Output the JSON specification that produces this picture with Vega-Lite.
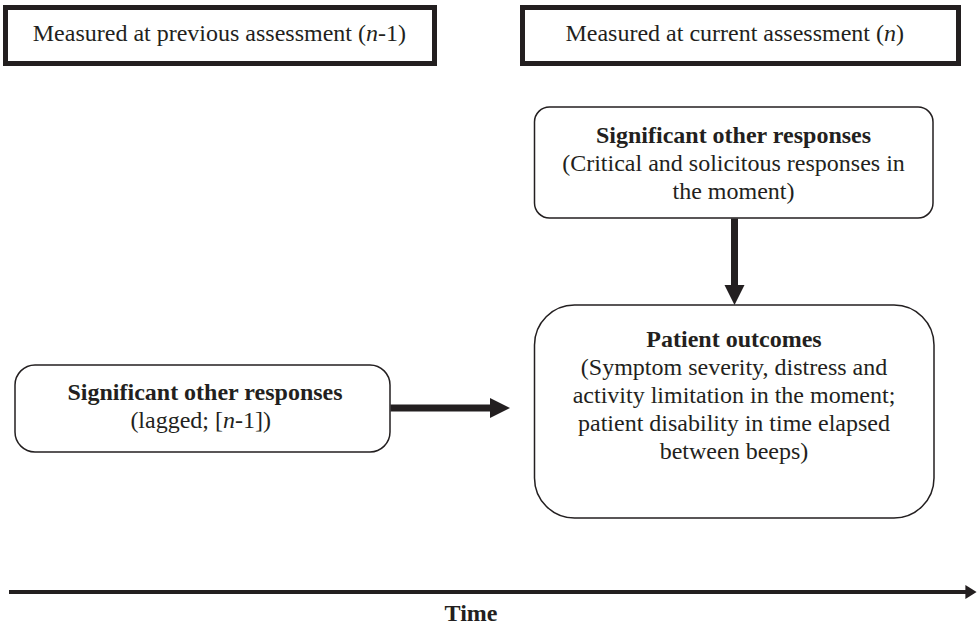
{
  "$schema": "https://vega.github.io/schema/vega-lite/v6.json",
  "width": 977,
  "height": 626,
  "autosize": {"type": "fit", "contains": "padding"},
  "padding": 0,
  "background": "white",
  "config": {"view": {"stroke": null}},
  "layer": [
    {
      "data": {"values": [
        {"box": "previous", "x1": 5.5, "x2": 434.5, "y1": 7.5, "y2": 63.5},
        {"box": "current", "x1": 522.5, "x2": 958.5, "y1": 7.5, "y2": 63.5}
      ]},
      "mark": {"type": "rect", "fill": "white", "stroke": "#231f20", "strokeWidth": 5},
      "encoding": {
        "x": {"field": "x1", "type": "quantitative", "scale": {"domain": [0, 977], "nice": false, "zero": false}, "axis": null},
        "x2": {"field": "x2"},
        "y": {"field": "y1", "type": "quantitative", "scale": {"domain": [0, 626], "nice": false, "zero": false, "reverse": true}, "axis": null},
        "y2": {"field": "y2"}
      }
    },
    {
      "data": {"values": [{"box": "so_current", "x1": 534.5, "x2": 933, "y1": 107, "y2": 218}]},
      "mark": {"type": "rect", "fill": "white", "stroke": "#231f20", "strokeWidth": 1.5, "cornerRadius": 15},
      "encoding": {
        "x": {"field": "x1", "type": "quantitative", "axis": null},
        "x2": {"field": "x2"},
        "y": {"field": "y1", "type": "quantitative", "axis": null},
        "y2": {"field": "y2"}
      }
    },
    {
      "data": {"values": [{"box": "patient", "x1": 534.5, "x2": 934, "y1": 305, "y2": 518}]},
      "mark": {"type": "rect", "fill": "white", "stroke": "#231f20", "strokeWidth": 1.5, "cornerRadius": 40},
      "encoding": {
        "x": {"field": "x1", "type": "quantitative", "axis": null},
        "x2": {"field": "x2"},
        "y": {"field": "y1", "type": "quantitative", "axis": null},
        "y2": {"field": "y2"}
      }
    },
    {
      "data": {"values": [{"box": "so_lagged", "x1": 15, "x2": 390, "y1": 365, "y2": 452}]},
      "mark": {"type": "rect", "fill": "white", "stroke": "#231f20", "strokeWidth": 1.5, "cornerRadius": 20},
      "encoding": {
        "x": {"field": "x1", "type": "quantitative", "axis": null},
        "x2": {"field": "x2"},
        "y": {"field": "y1", "type": "quantitative", "axis": null},
        "y2": {"field": "y2"}
      }
    },
    {
      "data": {"values": [
        {"arrow": "down", "x1": 734.5, "x2": 734.5, "y1": 218.5, "y2": 287},
        {"arrow": "right", "x1": 390.5, "x2": 492, "y1": 408, "y2": 408}
      ]},
      "mark": {"type": "rule", "color": "#231f20", "strokeWidth": 7},
      "encoding": {
        "x": {"field": "x1", "type": "quantitative", "axis": null},
        "x2": {"field": "x2"},
        "y": {"field": "y1", "type": "quantitative", "axis": null},
        "y2": {"field": "y2"}
      }
    },
    {
      "data": {"values": [{"arrow": "time", "x1": 9, "x2": 970, "y1": 592, "y2": 592}]},
      "mark": {"type": "rule", "color": "#231f20", "strokeWidth": 4},
      "encoding": {
        "x": {"field": "x1", "type": "quantitative", "axis": null},
        "x2": {"field": "x2"},
        "y": {"field": "y1", "type": "quantitative", "axis": null},
        "y2": {"field": "y2"}
      }
    },
    {
      "data": {"values": [{"head": "down", "x": 734.5, "y": 295}]},
      "mark": {"type": "point", "shape": "M-1,-1L1,-1L0,1Z", "size": 400, "filled": true, "color": "#231f20", "opacity": 1, "strokeWidth": 0},
      "encoding": {
        "x": {"field": "x", "type": "quantitative", "axis": null},
        "y": {"field": "y", "type": "quantitative", "axis": null}
      }
    },
    {
      "data": {"values": [{"head": "right", "x": 500, "y": 408}]},
      "mark": {"type": "point", "shape": "M-1,-1L1,0L-1,1Z", "size": 400, "filled": true, "color": "#231f20", "opacity": 1, "strokeWidth": 0},
      "encoding": {
        "x": {"field": "x", "type": "quantitative", "axis": null},
        "y": {"field": "y", "type": "quantitative", "axis": null}
      }
    },
    {
      "data": {"values": [{"head": "time", "x": 971, "y": 592}]},
      "mark": {"type": "point", "shape": "M-0.8,-1L0.8,0L-0.8,1Z", "size": 196, "filled": true, "color": "#231f20", "opacity": 1, "strokeWidth": 0},
      "encoding": {
        "x": {"field": "x", "type": "quantitative", "axis": null},
        "y": {"field": "y", "type": "quantitative", "axis": null}
      }
    },
    {
      "data": {"values": [
        {"label": "Significant other responses", "x": 733.5, "y": 143},
        {"label": "Patient outcomes", "x": 734, "y": 347},
        {"label": "Significant other responses", "x": 205, "y": 400},
        {"label": "Time", "x": 471, "y": 621}
      ]},
      "mark": {"type": "text", "font": "Liberation Serif", "fontSize": 24, "fontWeight": "bold", "align": "center", "baseline": "alphabetic", "color": "#231f20"},
      "encoding": {
        "x": {"field": "x", "type": "quantitative", "axis": null},
        "y": {"field": "y", "type": "quantitative", "axis": null},
        "text": {"field": "label", "type": "nominal"}
      }
    },
    {
      "data": {"values": [
        {"label": "(Critical and solicitous responses in", "x": 733.5, "y": 171},
        {"label": "the moment)", "x": 733.5, "y": 199},
        {"label": "(Symptom severity, distress and", "x": 734, "y": 375},
        {"label": "activity limitation in the moment;", "x": 734, "y": 403},
        {"label": "patient disability in time elapsed", "x": 734, "y": 431},
        {"label": "between beeps)", "x": 734, "y": 459}
      ]},
      "mark": {"type": "text", "font": "Liberation Serif", "fontSize": 24, "align": "center", "baseline": "alphabetic", "color": "#231f20"},
      "encoding": {
        "x": {"field": "x", "type": "quantitative", "axis": null},
        "y": {"field": "y", "type": "quantitative", "axis": null},
        "text": {"field": "label", "type": "nominal"}
      }
    },
    {
      "data": {"values": [
        {"label": "Measured at previous assessment (", "x": 366, "y": 41},
        {"label": "Measured at current assessment (", "x": 884, "y": 41},
        {"label": "(lagged; [", "x": 223, "y": 428}
      ]},
      "mark": {"type": "text", "font": "Liberation Serif", "fontSize": 24, "align": "right", "baseline": "alphabetic", "color": "#231f20"},
      "encoding": {
        "x": {"field": "x", "type": "quantitative", "axis": null},
        "y": {"field": "y", "type": "quantitative", "axis": null},
        "text": {"field": "label", "type": "nominal"}
      }
    },
    {
      "data": {"values": [
        {"label": "n", "x": 366, "y": 41},
        {"label": "n", "x": 884, "y": 41},
        {"label": "n", "x": 223, "y": 428}
      ]},
      "mark": {"type": "text", "font": "Liberation Serif", "fontSize": 24, "fontStyle": "italic", "align": "left", "baseline": "alphabetic", "color": "#231f20"},
      "encoding": {
        "x": {"field": "x", "type": "quantitative", "axis": null},
        "y": {"field": "y", "type": "quantitative", "axis": null},
        "text": {"field": "label", "type": "nominal"}
      }
    },
    {
      "data": {"values": [
        {"label": "-1)", "x": 378, "y": 41},
        {"label": ")", "x": 896, "y": 41},
        {"label": "-1])", "x": 235, "y": 428}
      ]},
      "mark": {"type": "text", "font": "Liberation Serif", "fontSize": 24, "align": "left", "baseline": "alphabetic", "color": "#231f20"},
      "encoding": {
        "x": {"field": "x", "type": "quantitative", "axis": null},
        "y": {"field": "y", "type": "quantitative", "axis": null},
        "text": {"field": "label", "type": "nominal"}
      }
    }
  ]
}
